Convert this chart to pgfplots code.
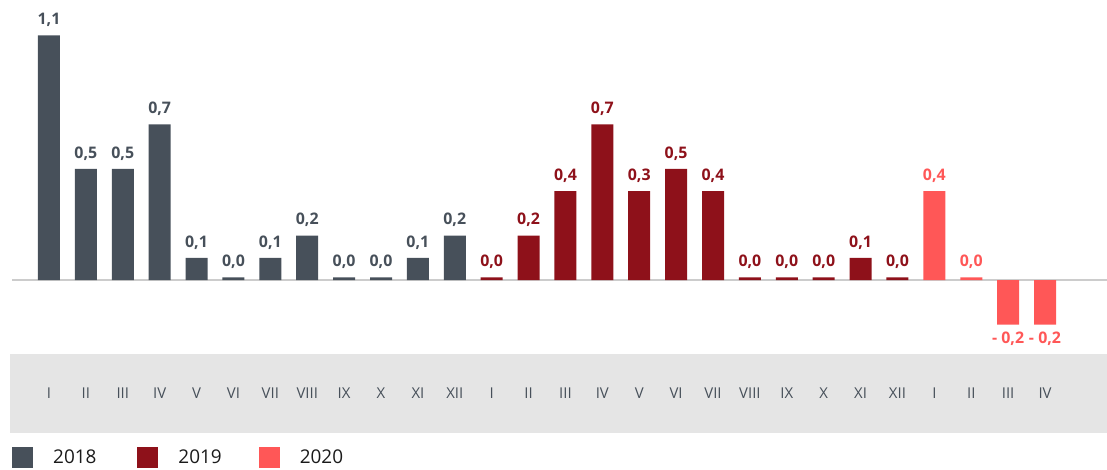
\documentclass[border=0pt]{standalone}
\usepackage{pgfplots}
\pgfplotsset{compat=1.18}
\usepackage{pgfplotstable}
\usepackage{fontspec}
\setmainfont{Open Sans}
\definecolor{c18}{HTML}{47505A}
\definecolor{c19}{HTML}{8E111A}
\definecolor{c20}{HTML}{FF5757}
\definecolor{band}{HTML}{E5E5E5}
\definecolor{zline}{HTML}{CCCCCC}
\definecolor{legtxt}{HTML}{1A1A1A}

\pgfplotstableread[col sep=semicolon]{
x;y;lab
0;1.1;1,1
1;0.5;0,5
2;0.5;0,5
3;0.7;0,7
4;0.1;0,1
5;0.012;0,0
6;0.1;0,1
7;0.2;0,2
8;0.012;0,0
9;0.012;0,0
10;0.1;0,1
11;0.2;0,2
}\tA

\pgfplotstableread[col sep=semicolon]{
x;y;lab
12;0.012;0,0
13;0.2;0,2
14;0.4;0,4
15;0.7;0,7
16;0.4;0,3
17;0.5;0,5
18;0.4;0,4
19;0.012;0,0
20;0.012;0,0
21;0.012;0,0
22;0.1;0,1
23;0.012;0,0
}\tB

\pgfplotstableread[col sep=semicolon]{
x;y;lab
24;0.4;0,4
25;0.012;0,0
}\tC

\pgfplotstableread[col sep=semicolon]{
x;y;lab
26;-0.2;- 0,2
27;-0.2;- 0,2
}\tD

\pgfplotsset{
  myleg/.style={legend image code/.code={\fill[##1] (0bp,-10.5bp) rectangle (21bp,10.5bp);}},
}

\begin{document}
\begin{tikzpicture}
\begin{axis}[
  set layers,
  scale only axis, width=1107bp, height=470bp,
  xmin=-1.328, xmax=28.68, ymin=-0.854, ymax=1.259,
  clip=false,
  axis line style={draw=none},
  major tick length=0pt,
  ytick=\empty,
  xtick={0,...,27},
  xticklabels={I,II,III,IV,V,VI,VII,VIII,IX,X,XI,XII,I,II,III,IV,V,VI,VII,VIII,IX,X,XI,XII,I,II,III,IV},
  x tick label style={font=\fontsize{15}{15}\selectfont, text=c18, anchor=center, yshift=77bp},
  ybar, bar width=22bp, bar shift=0pt,
  nodes near coords, point meta=explicit symbolic,
  every node near coord/.append style={font=\bfseries\fontsize{16}{16}\selectfont, inner ysep=8.5bp},
  legend columns=3,
  legend style={draw=none, fill=none, inner sep=0pt, at={(rel axis cs:0.01084,0.00426)}, anchor=south west,
    nodes={inner sep=0pt, text=legtxt}, font=\fontsize{19}{19}\selectfont,
    /tikz/every odd column/.append style={column sep=20bp},
    /tikz/every even column/.append style={column sep=41bp}},
]
\begin{pgfonlayer}{axis background}
\fill[band] (axis cs:-1.057,-0.3327) rectangle (axis cs:28.68,-0.688);
\draw[zline, line width=2bp] (axis cs:-1.0,0) -- (axis cs:28.68,0);
\end{pgfonlayer}
\addplot[fill=c18, draw=none, myleg, every node near coord/.append style={text=c18}] table[x=x, y=y, meta=lab] {\tA};
\addplot[fill=c19, draw=none, myleg, every node near coord/.append style={text=c19}] table[x=x, y=y, meta=lab] {\tB};
\addplot[fill=c20, draw=none, myleg, every node near coord/.append style={text=c20}] table[x=x, y=y, meta=lab] {\tC};
\addplot[fill=c20, draw=none, forget plot, every node near coord/.append style={text=c20, yshift=-30bp}] table[x=x, y=y, meta=lab] {\tD};
\legend{2018,{2019\kern-4bp},2020}
\end{axis}
\pgfresetboundingbox
\path (current axis.south west) rectangle (current axis.north east);
\end{tikzpicture}
\end{document}
